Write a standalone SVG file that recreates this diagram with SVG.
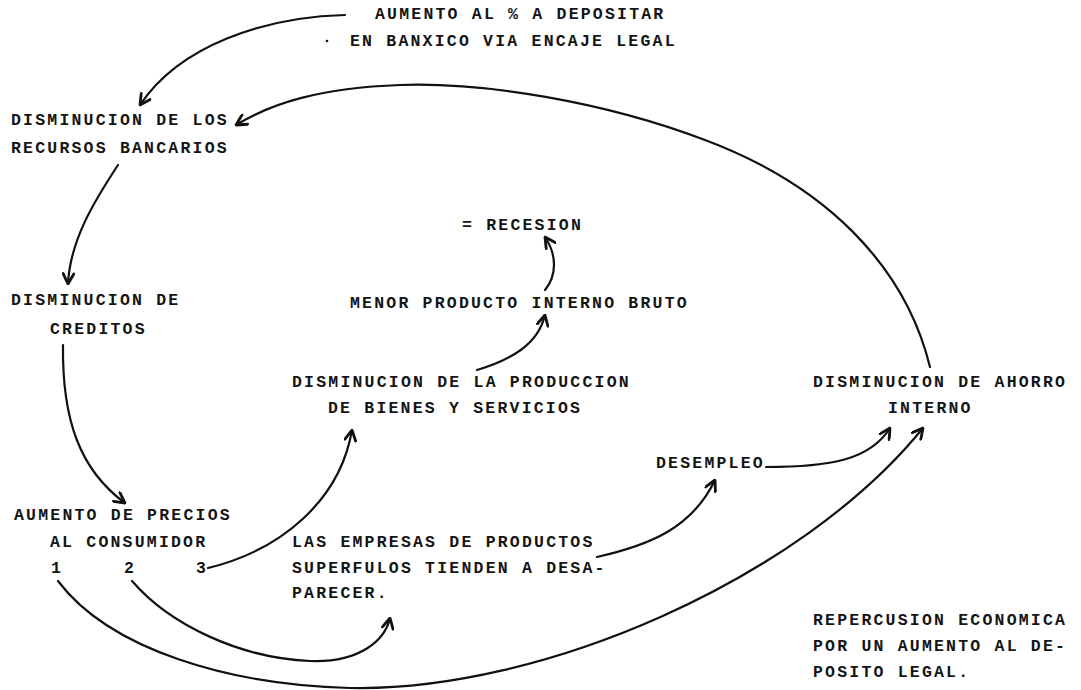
<svg xmlns="http://www.w3.org/2000/svg" width="1081" height="690" viewBox="0 0 1081 690">
<style>
text{font-family:"Liberation Mono","Courier New",monospace;font-size:16.5px;font-weight:bold;letter-spacing:2.2px;fill:#151515}
.c{fill:none;stroke:#111;stroke-width:2.2;stroke-linecap:round;stroke-linejoin:round;marker-end:url(#ah)}
</style>
<defs>
<marker id="ah" viewBox="0 0 12 12" refX="11" refY="6" markerWidth="13" markerHeight="13" markerUnits="userSpaceOnUse" orient="auto">
<path d="M1.5,1 L11,6 L1.5,11" fill="none" stroke="#111" stroke-width="2.6" stroke-linejoin="round" stroke-linecap="round"/>
</marker>
</defs>
<rect width="1081" height="690" fill="#fff"/>
<g id="connectors">
<path class="c" d="M345,15 C 265,17 180,45 140,105"/>
<path class="c" d="M930,367 C 905,265 825,185 705,140 C 605,102 485,82 400,85 C 320,88 272,103 236,125"/>
<path class="c" d="M118,165 C 95,200 70,240 68,284"/>
<path class="c" d="M63,345 C 62,420 80,470 125,503"/>
<path class="c" d="M208,568 C 282,550 340,500 352,430"/>
<path class="c" d="M477,370 C 510,360 538,345 545,315"/>
<path class="c" d="M545,290 C 557,275 557,255 545,237"/>
<path class="c" d="M132,581 C 170,625 240,658 310,661 C 360,663 385,640 390,618"/>
<path class="c" d="M58,581 C 110,650 230,685 350,688 C 540,692 800,580 923,428"/>
<path class="c" d="M597,557 C 650,545 692,528 715,480"/>
<path class="c" d="M766,467 C 830,467 870,460 890,428"/>
</g>
<g id="n-aumento-encaje">
<text x="375" y="19">AUMENTO AL % A DEPOSITAR</text>
<circle cx="327" cy="41" r="1.3" fill="#111"/>
<text x="350" y="46">EN BANXICO VIA ENCAJE LEGAL</text>
</g>
<g id="n-recursos">
<text x="11" y="125">DISMINUCION DE LOS</text>
<text x="11" y="153">RECURSOS BANCARIOS</text>
</g>
<g id="n-recesion"><text x="462" y="230">= RECESION</text></g>
<g id="n-pib"><text x="350" y="308">MENOR PRODUCTO INTERNO BRUTO</text></g>
<g id="n-creditos">
<text x="11" y="305">DISMINUCION DE</text>
<text x="50" y="334">CREDITOS</text>
</g>
<g id="n-produccion">
<text x="292" y="387">DISMINUCION DE LA PRODUCCION</text>
<text x="328" y="413">DE BIENES Y SERVICIOS</text>
</g>
<g id="n-ahorro">
<text x="813" y="387">DISMINUCION DE AHORRO</text>
<text x="888" y="413">INTERNO</text>
</g>
<g id="n-desempleo"><text x="656" y="468">DESEMPLEO</text></g>
<g id="n-precios">
<text x="14" y="520">AUMENTO DE PRECIOS</text>
<text x="50" y="547">AL CONSUMIDOR</text>
<text x="51" y="573">1</text>
<text x="124" y="573">2</text>
<text x="196" y="573">3</text>
</g>
<g id="n-empresas">
<text x="292" y="547">LAS EMPRESAS DE PRODUCTOS</text>
<text x="292" y="573">SUPERFULOS TIENDEN A DESA-</text>
<text x="292" y="598">PARECER.</text>
</g>
<g id="n-titulo">
<text x="813" y="625">REPERCUSION ECONOMICA</text>
<text x="813" y="651">POR UN AUMENTO AL DE-</text>
<text x="813" y="677">POSITO LEGAL.</text>
</g>
</svg>
